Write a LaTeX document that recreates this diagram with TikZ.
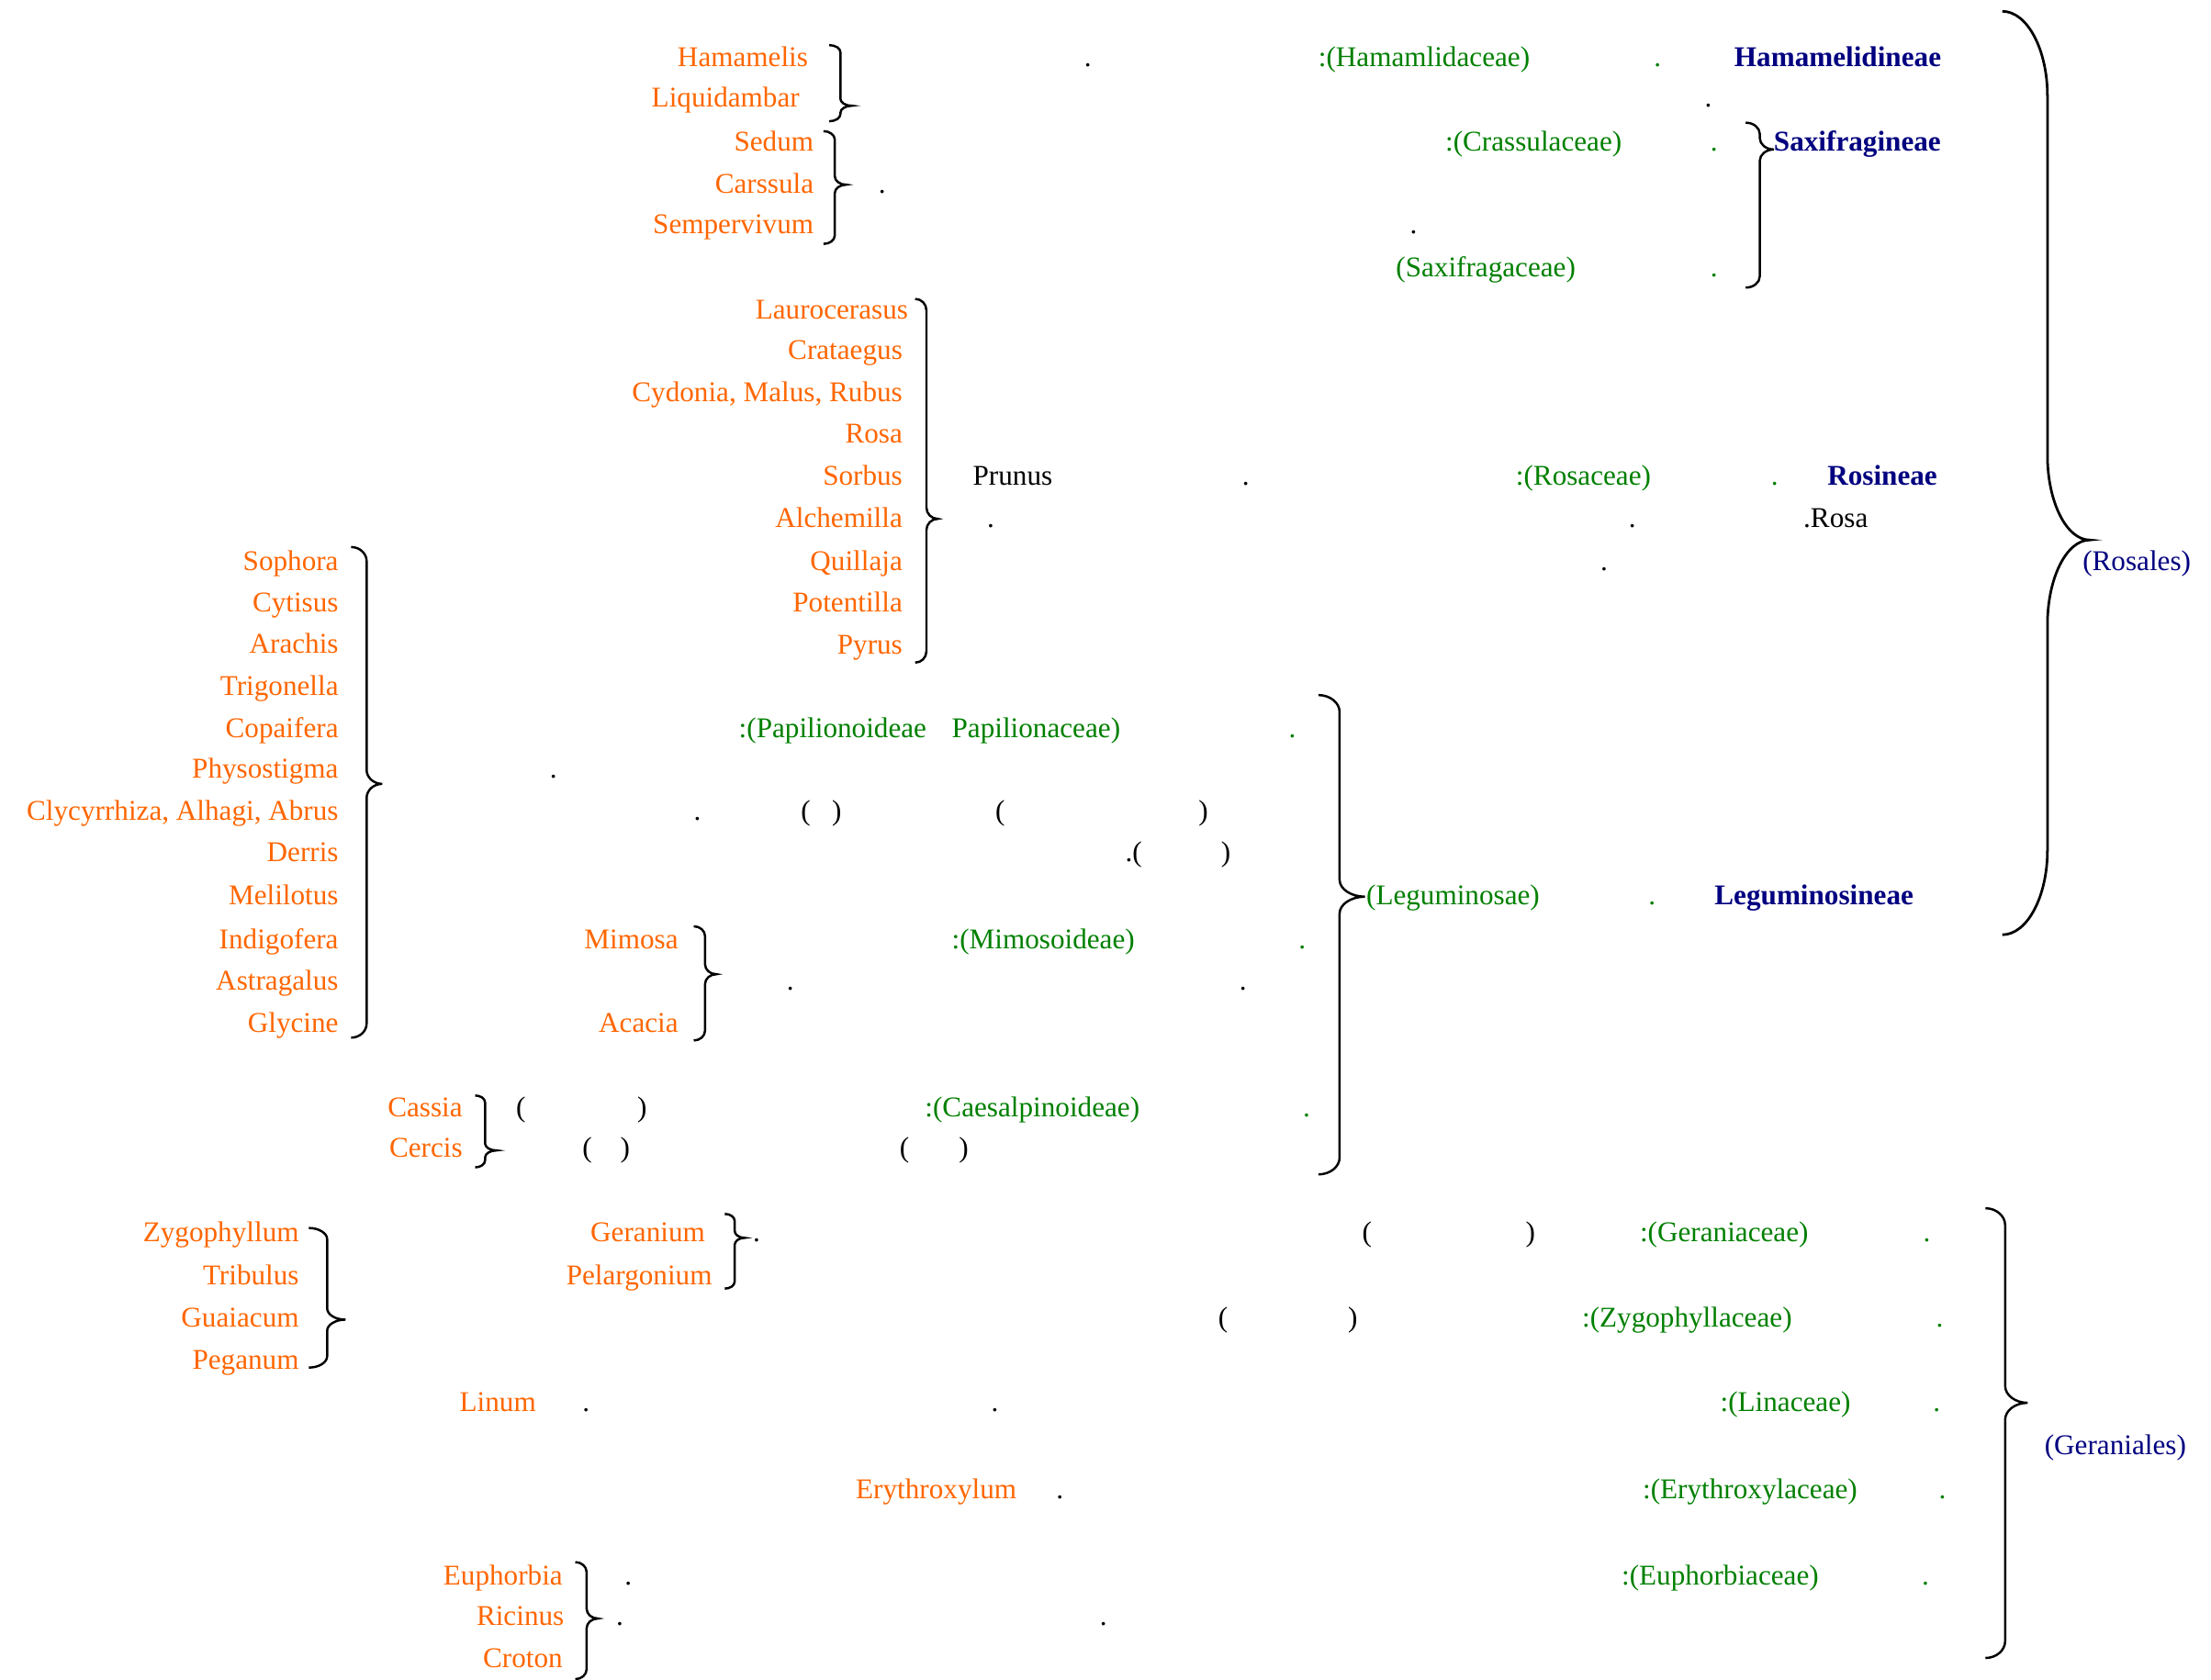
\documentclass[tikz,border=0pt]{standalone}
\usepackage{fontspec}
\setmainfont{Liberation Serif}
\definecolor{orgc}{RGB}{255,102,0}
\definecolor{grnc}{RGB}{0,128,0}
\definecolor{navc}{RGB}{0,0,128}
\newcommand{\fs}{\fontsize{10.15}{12}\selectfont}
\newcommand{\LT}[5]{\node[txt,#4,anchor=base west] (#1) at (#2,#3) {#5};}
\newcommand{\RT}[5]{\node[txt,#4,anchor=base east] (#1) at (#2,#3) {#5};}
% [opts] x0 x1 x2 ytop ytip ybot r
\newcommand{\cbrace}[8][]{\draw[brc,#1]
  (#2,#5) .. controls ({#2+0.55*(#3-#2)},#5) and (#3,{#5+0.45*#8}) .. (#3,#5+#8)
  -- (#3,#6-#8) .. controls (#3,{#6-0.45*#8}) and ({#4-0.55*(#4-#3)},#6) .. (#4,#6)
  .. controls ({#4-0.55*(#4-#3)},#6) and (#3,{#6+0.45*#8}) .. (#3,#6+#8)
  -- (#3,#7-#8) .. controls (#3,{#7-0.45*#8}) and ({#2+0.55*(#3-#2)},#7) .. (#2,#7);}
\tikzset{
  txt/.style={inner sep=0pt,outer sep=0pt,font=\fs},
  org/.style={text=orgc},
  grn/.style={text=grnc},
  nav/.style={text=navc},
  navb/.style={text=navc,font=\fs\bfseries},
  blk/.style={text=black},
  brc/.style={line width=0.8pt,black}
}
\begin{document}
\begin{tikzpicture}[x=0.5pt,y=-0.5pt]
\useasboundingbox[fill=white] (0,0) rectangle (1568,1191);
% ---- Hamamelidineae
\RT{hama}{573}{47}{org}{Hamamelis}
\LT{d1}{769}{47}{blk}{.}
\LT{hamf}{935}{47}{grn}{:(Hamamlidaceae)}
\LT{d2}{1173}{47}{grn}{.}
\LT{hamo}{1230}{47}{navb}{Hamamelidineae}
\RT{liqu}{567}{76}{org}{Liquidambar}
\LT{d3}{1209}{76}{blk}{.}
\cbrace{588}{596}{604}{32}{75}{86}{5}
% ---- Saxifragineae
\RT{sedu}{577}{107}{org}{Sedum}
\LT{cras}{1025}{107}{grn}{:(Crassulaceae)}
\LT{d4}{1213}{107}{grn}{.}
\LT{saxo}{1258}{107}{navb}{Saxifragineae}
\RT{cars}{577}{137}{org}{Carssula}
\LT{d5}{623}{137}{blk}{.}
\RT{semp}{577}{166}{org}{Sempervivum}
\LT{d6}{1000}{166}{blk}{.}
\LT{saxf}{990}{196}{grn}{(Saxifragaceae)}
\LT{d7}{1213}{196}{grn}{.}
\cbrace{584}{592}{600}{93}{131}{173}{6}
\cbrace{1238}{1248}{1258}{87}{106}{204}{8}
% ---- Rosineae
\RT{laur}{644}{226}{org}{Laurocerasus}
\RT{crat}{640}{255}{org}{Crataegus}
\RT{cydo}{640}{285}{org}{Cydonia, Malus, Rubus}
\RT{rosa}{640}{314}{org}{Rosa}
\RT{sorb}{640}{344}{org}{Sorbus}
\LT{prun}{690}{344}{blk}{Prunus}
\LT{d8}{881}{344}{blk}{.}
\LT{rosf}{1075}{344}{grn}{:(Rosaceae)}
\LT{d9}{1256}{344}{grn}{.}
\LT{roso}{1296}{344}{navb}{Rosineae}
\RT{alch}{640}{374}{org}{Alchemilla}
\LT{d10}{700}{374}{blk}{.}
\LT{d11}{1155}{374}{blk}{.}
\LT{rosb}{1279}{374}{blk}{.Rosa}
\RT{quil}{640}{405}{org}{Quillaja}
\LT{d12}{1135}{405}{blk}{.}
\RT{pote}{640}{434}{org}{Potentilla}
\RT{pyru}{640}{464}{org}{Pyrus}
\cbrace{649}{657}{665}{212}{368}{470}{8}
% ---- Rosales
\cbrace[line width=0.9pt]{1420}{1452}{1482}{8}{383}{663}{60}
\LT{rosl}{1477}{405}{nav}{(Rosales)}
% ---- Leguminosineae
\RT{soph}{240}{405}{org}{Sophora}
\RT{cyti}{240}{434}{org}{Cytisus}
\RT{arac}{240}{463}{org}{Arachis}
\RT{trig}{240}{493}{org}{Trigonella}
\RT{copa}{240}{523}{org}{Copaifera}
\LT{papa}{524}{523}{grn}{:(Papilionoideae}
\LT{papb}{675}{523}{grn}{Papilionaceae)}
\LT{d13}{914}{523}{grn}{.}
\RT{phys}{240}{552}{org}{Physostigma}
\LT{d14}{390}{552}{blk}{.}
\RT{clyc}{240}{582}{org}{Clycyrrhiza, Alhagi, Abrus}
\LT{d15}{492}{582}{blk}{.}
\LT{p1}{568}{582}{blk}{(}
\LT{p2}{590}{582}{blk}{)}
\LT{p3}{706}{582}{blk}{(}
\LT{p4}{850}{582}{blk}{)}
\RT{derr}{240}{611}{org}{Derris}
\LT{p5}{798}{611}{blk}{.(}
\LT{p6}{866}{611}{blk}{)}
\RT{meli}{240}{642}{org}{Melilotus}
\LT{legf}{969}{642}{grn}{(Leguminosae)}
\LT{d16}{1169}{642}{grn}{.}
\LT{lego}{1216}{642}{navb}{Leguminosineae}
\RT{indi}{240}{673}{org}{Indigofera}
\RT{mimo}{481}{673}{org}{Mimosa}
\LT{mimf}{675}{673}{grn}{:(Mimosoideae)}
\LT{d17}{921}{673}{grn}{.}
\RT{astr}{240}{702}{org}{Astragalus}
\LT{d18}{558}{702}{blk}{.}
\LT{d19}{879}{702}{blk}{.}
\RT{glyc}{240}{732}{org}{Glycine}
\RT{acac}{481}{732}{org}{Acacia}
\cbrace{249}{260}{271}{388}{556}{736}{10}
\cbrace{492}{500}{508}{657}{691}{738}{7}
\cbrace{935}{950}{968}{493}{636}{833}{12}
\RT{cass}{328}{792}{org}{Cassia}
\LT{p7}{366}{792}{blk}{(}
\LT{p8}{452}{792}{blk}{)}
\LT{caes}{656}{792}{grn}{:(Caesalpinoideae)}
\LT{d20}{924}{792}{grn}{.}
\RT{cerc}{328}{821}{org}{Cercis}
\LT{p9}{413}{821}{blk}{(}
\LT{p10}{440}{821}{blk}{)}
\LT{p11}{638}{821}{blk}{(}
\LT{p12}{680}{821}{blk}{)}
\cbrace{337}{344}{352}{777}{816}{828}{5}
% ---- Geraniales
\RT{zygo}{212}{881}{org}{Zygophyllum}
\RT{gera}{500}{881}{org}{Geranium}
\LT{d21}{534}{881}{blk}{.}
\LT{p13}{966}{881}{blk}{(}
\LT{p14}{1082}{881}{blk}{)}
\LT{gerf}{1163}{881}{grn}{:(Geraniaceae)}
\LT{d22}{1364}{881}{grn}{.}
\RT{trib}{212}{911}{org}{Tribulus}
\RT{pela}{505}{911}{org}{Pelargonium}
\RT{guai}{212}{941}{org}{Guaiacum}
\LT{p15}{864}{941}{blk}{(}
\LT{p16}{956}{941}{blk}{)}
\LT{zygf}{1122}{941}{grn}{:(Zygophyllaceae)}
\LT{d23}{1373}{941}{grn}{.}
\RT{pega}{212}{971}{org}{Peganum}
\LT{linu}{326}{1001}{org}{Linum}
\LT{d24}{413}{1001}{blk}{.}
\LT{d25}{703}{1001}{blk}{.}
\LT{linf}{1220}{1001}{grn}{:(Linaceae)}
\LT{d26}{1371}{1001}{grn}{.}
\LT{gero}{1450}{1032}{nav}{(Geraniales)}
\LT{eryt}{607}{1063}{org}{Erythroxylum}
\LT{d27}{749}{1063}{blk}{.}
\LT{eryf}{1165}{1063}{grn}{:(Erythroxylaceae)}
\LT{d28}{1375}{1063}{grn}{.}
\RT{euph}{399}{1124}{org}{Euphorbia}
\LT{d29}{443}{1124}{blk}{.}
\LT{euf}{1150}{1124}{grn}{:(Euphorbiaceae)}
\LT{d30}{1363}{1124}{grn}{.}
\RT{rici}{400}{1153}{org}{Ricinus}
\LT{d31}{437}{1153}{blk}{.}
\LT{d32}{780}{1153}{blk}{.}
\RT{crot}{399}{1183}{org}{Croton}
\cbrace{219}{232}{245}{871}{936}{970}{8}
\cbrace{514}{521}{528}{861}{878}{914}{5}
\cbrace{1408}{1422}{1438}{857}{995}{1176}{12}
\cbrace{408}{416}{424}{1108}{1148}{1191}{7}
\end{tikzpicture}
\end{document}
